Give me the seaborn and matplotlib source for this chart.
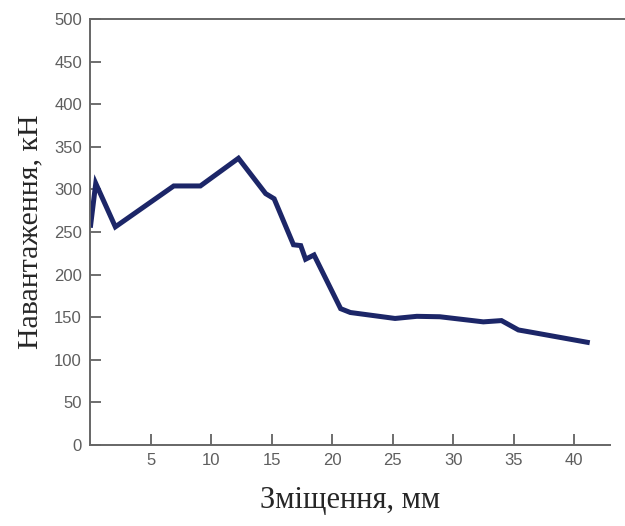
import pandas as pd
import matplotlib
matplotlib.use("Agg")
import matplotlib.pyplot as plt
import seaborn as sns

# дані
zmishchennia = [0.0, 0.45, 2.07, 6.9, 9.1, 12.25, 14.5, 15.2, 16.8, 17.4, 17.8, 18.5,
                20.7, 21.5, 25.2, 27.0, 28.9, 32.5, 34.0, 35.4, 36.6, 41.3]
navantazhennia = [255, 307, 256, 304, 304, 336.5, 295, 289, 235, 234, 218, 223,
                  160, 155.5, 148.5, 151, 150.5, 144.5, 146, 135, 132, 120]
x_ticks = [5, 10, 15, 20, 25, 30, 35, 40]
y_ticks = [0, 50, 100, 150, 200, 250, 300, 350, 400, 450, 500]

df = pd.DataFrame({"x": zmishchennia, "y": navantazhennia})

sns.set_style("ticks")
plt.rcParams["font.family"] = ["Liberation Sans", "DejaVu Sans"]

fig = plt.figure(figsize=(6.25, 5.26), dpi=100)
ax = fig.add_axes([0.1445, 0.154, 0.832, 0.81])

sns.lineplot(data=df, x="x", y="y", ax=ax, color="#1c2668", linewidth=3.6,
             solid_joinstyle="miter", solid_capstyle="butt")

ax.set_xlim(0, 43)
ax.set_ylim(0, 500)
ax.set_xticks(x_ticks)
ax.set_yticks(y_ticks)
ax.tick_params(direction="in", length=8, width=1.2, color="#555555",
               labelcolor="#5e5e5e", labelsize=12, pad=6)

for s in ["left", "top", "bottom"]:
    ax.spines[s].set_color("#666666")
    ax.spines[s].set_linewidth(1.4)
ax.spines["right"].set_visible(False)
ax.spines["top"].set_bounds(0, 44.4)

ax.set_xlabel("Зміщення, мм", fontsize=22, family="Liberation Serif", labelpad=13)
ax.set_ylabel("Навантаження, кН", fontsize=21.5, family="Liberation Serif", labelpad=8)

fig.savefig("out.png", dpi=100)
